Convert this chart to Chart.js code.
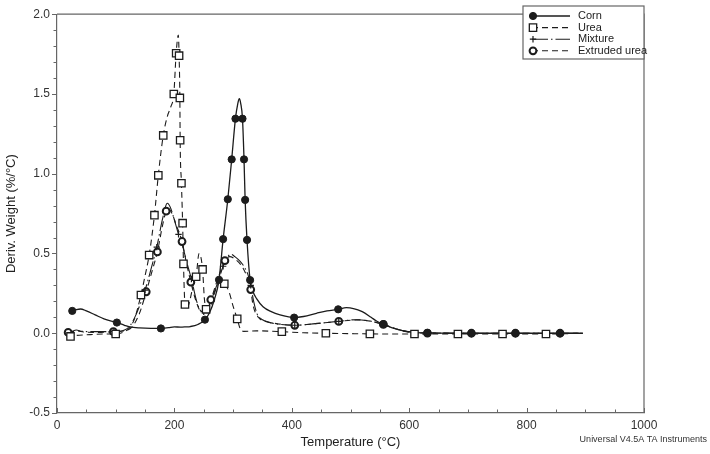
<!DOCTYPE html>
<html>
<head>
<meta charset="utf-8">
<script src="https://cdn.jsdelivr.net/npm/chart.js@4.4.1/dist/chart.umd.min.js"></script>
<style>
html, body { margin: 0; padding: 0; background: #fff; }
</style>
</head>
<body>
<canvas id="graficaDTG" width="710" height="454"></canvas>
<script>
// Curvas DTG (T en °C, valor en %/°C) - puntos de forma + puntos con marcador
const cornT = [33, 40, 50, 65, 80, 115, 124, 140, 160, 190, 200, 210, 220, 227, 240, 260, 268, 308, 310.6, 313, 334, 340, 351, 365, 380, 420, 442, 460, 493, 505, 520, 535, 545, 570, 590, 610, 896];
const cornV = [0.148, 0.152, 0.14, 0.115, 0.09, 0.05, 0.04, 0.033, 0.03, 0.035, 0.04, 0.038, 0.04, 0.042, 0.055, 0.13, 0.21, 1.44, 1.47, 1.44, 0.26, 0.217, 0.166, 0.135, 0.115, 0.105, 0.125, 0.14, 0.16, 0.155, 0.135, 0.1, 0.075, 0.035, 0.015, 0.006, 0];
const cornMarkT = [26, 102, 177, 252, 276, 283, 291, 297.6, 304, 316, 318.6, 320.5, 323.7, 329, 404, 479, 556, 631, 706, 781, 857];
const cornMarkV = [0.14, 0.067, 0.03, 0.085, 0.335, 0.59, 0.84, 1.09, 1.345, 1.345, 1.09, 0.836, 0.585, 0.333, 0.098, 0.15, 0.057, 0.002, 0, 0, 0];

const ureaT = [20, 30, 50, 80, 115, 125, 133, 150, 188, 194, 206.7, 221, 226, 232, 242, 251, 260, 270, 278, 293, 300, 312, 318, 340, 420, 895];
const ureaV = [0.0, -0.015, -0.01, -0.005, 0.01, 0.04, 0.1, 0.36, 1.36, 1.42, 1.87, 0.15, 0.2, 0.3, 0.5, 0.22, 0.16, 0.27, 0.32, 0.26, 0.17, 0.03, 0.012, 0.015, 0.003, 0.0];
const ureaMarkT = [23, 100, 143, 157, 166, 172.6, 181, 199, 203, 208, 209.3, 209.8, 212, 214, 215.5, 218, 237, 248, 254, 285, 307, 383, 458, 533, 609, 683, 759, 833];
const ureaMarkV = [-0.02, -0.005, 0.24, 0.49, 0.74, 0.99, 1.24, 1.5, 1.755, 1.74, 1.475, 1.21, 0.94, 0.69, 0.435, 0.18, 0.354, 0.4, 0.15, 0.31, 0.09, 0.01, 0.0, -0.004, -0.005, -0.005, -0.005, -0.005];

const mezclaT = [18, 25, 33, 42, 60, 115, 125, 135, 160, 180, 188, 193, 200, 213, 220, 238, 245, 257, 265, 275, 290, 296, 303, 312, 320, 326, 335, 341, 350, 365, 440, 510, 535, 580, 606, 896];
const mezclaV = [0.0, 0.01, 0.02, 0.012, 0.01, 0.02, 0.05, 0.12, 0.4, 0.72, 0.815, 0.79, 0.71, 0.56, 0.46, 0.2, 0.14, 0.16, 0.23, 0.33, 0.475, 0.495, 0.48, 0.45, 0.41, 0.36, 0.2, 0.12, 0.085, 0.065, 0.06, 0.085, 0.075, 0.025, 0.005, 0];
const mezclaMarkT = [97, 150, 170, 207, 229, 250, 283, 330, 405, 480, 556, 631, 706, 781, 857];
const mezclaMarkV = [0.01, 0.27, 0.54, 0.62, 0.34, 0.135, 0.42, 0.3, 0.05, 0.075, 0.055, 0.002, 0, 0, 0];

const extruT = [28, 35, 45, 70, 115, 128, 140, 162, 180, 190, 196, 203, 220, 237, 245, 252, 272, 294, 303, 315, 324, 334, 343, 357, 380, 440, 513, 535, 580, 606, 896];
const extruV = [0.01, 0.015, 0.008, 0.005, 0.015, 0.04, 0.12, 0.39, 0.68, 0.78, 0.75, 0.68, 0.45, 0.2, 0.14, 0.15, 0.32, 0.48, 0.465, 0.42, 0.35, 0.176, 0.1, 0.074, 0.057, 0.06, 0.084, 0.075, 0.025, 0.003, 0];
const extruMarkT = [19, 96, 152, 171, 186, 213, 228, 262, 286, 330, 405, 480, 556, 631, 706, 781, 857];
const extruMarkV = [0.005, 0.01, 0.26, 0.51, 0.765, 0.575, 0.32, 0.21, 0.455, 0.274, 0.05, 0.074, 0.055, 0.001, 0, 0, 0];

const nombres = ['Corn', 'Urea', 'Mixture', 'Extruded urea'];
const xTicks = [0, 200, 400, 600, 800, 1000];
const yTicks = [-0.5, 0.0, 0.5, 1.0, 1.5, 2.0];

const NEGRO = '#1c1c1c';
const EJE = '#666';
const fuente = 'Liberation Sans, Arial, sans-serif';

function puntos(t, v) {
    return t.map((x, i) => ({ x: x, y: v[i] }));
}
function curva(t, v, mt, mv) {
    return puntos(t, v).concat(puntos(mt, mv)).sort((a, b) => a.x - b.x);
}

// lado = lado del cuadrado / diámetro del marcador en px
const estilos = [
    { dash: [], ancho: 1.3, punto: 'circle', radio: 3.6, relleno: NEGRO, borde: 1 },
    { dash: [6, 4], ancho: 1.1, punto: 'rect', radio: 5.2, relleno: '#fff', borde: 1.3 },
    { dash: [16, 3, 1.5, 3], ancho: 1.1, punto: 'cross', radio: 3.2, relleno: NEGRO, borde: 1.2 },
    { dash: [6, 4], ancho: 1.1, punto: 'circle', radio: 3.4, relleno: '#fff', borde: 2 }
];

const series = [
    curva(cornT, cornV, cornMarkT, cornMarkV),
    curva(ureaT, ureaV, ureaMarkT, ureaMarkV),
    curva(mezclaT, mezclaV, mezclaMarkT, mezclaMarkV),
    curva(extruT, extruV, extruMarkT, extruMarkV)
];
const marcas = [
    puntos(cornMarkT, cornMarkV),
    puntos(ureaMarkT, ureaMarkV),
    puntos(mezclaMarkT, mezclaMarkV),
    puntos(extruMarkT, extruMarkV)
];

const datasets = [];
series.forEach((d, i) => {
    const e = estilos[i];
    datasets.push({
        label: nombres[i],
        data: d,
        borderColor: NEGRO,
        borderWidth: e.ancho,
        borderDash: e.dash,
        pointRadius: 0,
        fill: false,
        tension: 0.4,
        cubicInterpolationMode: 'monotone',
        order: 2
    });
});
marcas.forEach((d, i) => {
    const e = estilos[i];
    datasets.push({
        label: nombres[i] + ' marcas',
        data: d,
        showLine: false,
        pointStyle: e.punto,
        pointRadius: e.radio,
        pointBackgroundColor: e.relleno,
        pointBorderColor: NEGRO,
        pointBorderWidth: e.borde,
        order: 1
    });
});

// Marco, marcas de los ejes, leyenda y pie
const extras = {
    id: 'extras',
    afterDraw(chart) {
        const ctx = chart.ctx;
        const a = chart.chartArea;
        const sx = chart.scales.x, sy = chart.scales.y;
        ctx.save();
        ctx.strokeStyle = EJE;
        ctx.lineWidth = 1.2;
        ctx.beginPath();
        ctx.moveTo(a.left, a.top); ctx.lineTo(a.right, a.top); ctx.lineTo(a.right, a.bottom);
        ctx.stroke();

        // marcas eje x (hacia dentro, cada 50)
        ctx.lineWidth = 1;
        ctx.beginPath();
        for (let v = 0; v <= 1000; v += 50) {
            const px = Math.round(sx.getPixelForValue(v)) + 0.5;
            const l = xTicks.includes(v) ? 5 : 3.5;
            ctx.moveTo(px, a.bottom); ctx.lineTo(px, a.bottom - l);
        }
        // marcas eje y (hacia fuera, cada 0.1)
        for (let k = -5; k <= 20; k++) {
            const v = k / 10;
            const py = Math.round(sy.getPixelForValue(v)) + 0.5;
            const l = (k % 5 === 0) ? 5 : 3.5;
            ctx.moveTo(a.left, py); ctx.lineTo(a.left - l, py);
        }
        ctx.stroke();

        // leyenda
        const lx = 523, ly = 6, lw = a.right - 523, lh = 53;
        ctx.fillStyle = '#fff';
        ctx.fillRect(lx, ly, lw, lh);
        ctx.strokeStyle = EJE;
        ctx.lineWidth = 1.2;
        ctx.strokeRect(lx, ly, lw, lh);
        ctx.font = '11px ' + fuente;
        ctx.textBaseline = 'middle';
        ctx.textAlign = 'left';
        nombres.forEach((n, i) => {
            const e = estilos[i];
            const y = 16 + i * 11.6;
            ctx.strokeStyle = NEGRO;
            ctx.lineWidth = e.ancho;
            ctx.setLineDash(e.dash);
            ctx.beginPath();
            ctx.moveTo(532, y); ctx.lineTo(570, y);
            ctx.stroke();
            ctx.setLineDash([]);
            ctx.fillStyle = e.relleno;
            ctx.strokeStyle = NEGRO;
            ctx.lineWidth = e.borde;
            Chart.helpers.drawPoint(ctx, {
                pointStyle: e.punto, radius: e.radio, rotation: 0, borderWidth: e.borde
            }, 533, y);
            ctx.fillStyle = '#222';
            ctx.fillText(n, 578, y);
        });

        ctx.font = '9px ' + fuente;
        ctx.textAlign = 'right';
        ctx.textBaseline = 'middle';
        ctx.fillStyle = '#333';
        ctx.fillText('Universal V4.5A TA Instruments', 707, 440);
        ctx.restore();
    }
};

const ctxDTG = document.getElementById('graficaDTG').getContext('2d');
const graficaDTG = new Chart(ctxDTG, {
    type: 'line',
    data: { datasets: datasets },
    plugins: [extras],
    options: {
        responsive: false,
        animation: false,
        events: [],
        layout: { padding: { left: 0, right: 66, top: 6, bottom: 0 } },
        plugins: {
            legend: { display: false },
            tooltip: { enabled: false }
        },
        scales: {
            x: {
                type: 'linear',
                min: 0,
                max: 1000,
                afterBuildTicks: (s) => { s.ticks = xTicks.map(v => ({ value: v })); },
                afterFit: (s) => { s.height = 41; },
                ticks: {
                    color: '#333', font: { family: fuente, size: 12 }, padding: 5, maxRotation: 0, autoSkip: false,
                    callback: (v) => String(v)
                },
                grid: { display: false, drawTicks: false },
                border: { display: true, color: EJE, width: 1.2 },
                title: { display: true, text: 'Temperature (°C)', color: '#222', font: { family: fuente, size: 13 } }
            },
            y: {
                min: -0.5,
                max: 2.0,
                afterBuildTicks: (s) => { s.ticks = yTicks.map(v => ({ value: v })); },
                afterFit: (s) => { s.width = 57; },
                ticks: {
                    color: '#333', font: { family: fuente, size: 12 }, padding: 7,
                    callback: (v) => (Math.abs(v) < 1e-9 ? 0 : v).toFixed(1)
                },
                grid: { display: false, drawTicks: false },
                border: { display: true, color: EJE, width: 1.2 },
                title: { display: true, text: 'Deriv. Weight (%/°C)', color: '#222', font: { family: fuente, size: 13 } }
            }
        }
    }
});
</script>
</body>
</html>
